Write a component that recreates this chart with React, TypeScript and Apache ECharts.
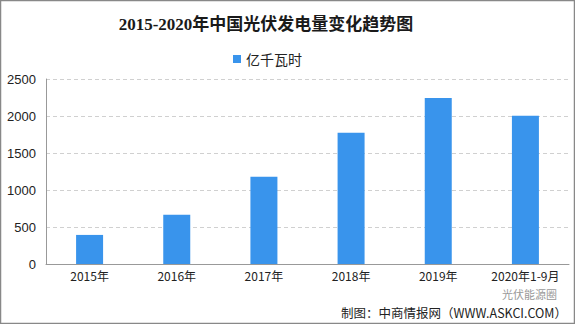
import React, { useEffect, useRef } from "react";
import * as echarts from "echarts";

const categories = ["2015年", "2016年", "2017年", "2018年", "2019年", "2020年1-9月"];
const values = [393, 665, 1178, 1775, 2243, 2005];
const seriesName = "亿千瓦时";
const titleText = "2015-2020年中国光伏发电量变化趋势图";
const footerText = "制图：中商情报网（WWW.ASKCI.COM）";
const watermarkText = "光伏能源圈";

export default function App() {
  const ref = useRef<HTMLDivElement>(null);
  useEffect(() => {
    const chart = echarts.init(ref.current!, null, { renderer: "svg" });
    chart.setOption({
      animation: false,
      backgroundColor: "#ffffff",
      title: {
        text: titleText,
        left: 261,
        textAlign: "center",
        top: 11,
        textStyle: {
          fontFamily: "'Liberation Serif', 'Noto Sans CJK SC', serif",
          fontWeight: "bold",
          fontSize: 17,
          color: "#1a1a1a",
        },
      },
      legend: {
        top: 47,
        left: 228,
        itemWidth: 8,
        itemHeight: 8,
        itemGap: 4,
        icon: "rect",
        textStyle: { fontSize: 14, color: "#222", fontFamily: "'Noto Sans CJK SC', sans-serif" },
        data: [seriesName],
      },
      grid: { left: 46, right: 6, top: 79, bottom: 60, containLabel: false },
      xAxis: {
        type: "category",
        data: categories,
        axisLine: { lineStyle: { color: "#999" } },
        axisTick: { show: false },
        axisLabel: {
          interval: 0,
          color: "#222",
          fontSize: 12,
          margin: 5,
          fontFamily: "'Noto Sans CJK SC', sans-serif",
        },
      },
      yAxis: {
        type: "value",
        min: 0,
        max: 2500,
        interval: 500,
        axisLine: { show: true, lineStyle: { color: "#999" } },
        axisTick: { show: false },
        axisLabel: {
          color: "#222",
          fontSize: 13,
          margin: 10,
          fontFamily: "'Liberation Sans', 'Noto Sans CJK SC', sans-serif",
          formatter: (v: number) => String(v),
        },
        splitLine: { lineStyle: { color: "#d0d0d0", type: [4, 3] } },
      },
      series: [
        {
          name: seriesName,
          type: "bar",
          data: values,
          barWidth: 27,
          itemStyle: { color: "#3994ec" },
        },
      ],
      graphic: [
        {
          type: "text",
          right: 8,
          top: 306,
          style: {
            text: footerText,
            fontSize: 12.5,
            fill: "#222",
            fontFamily: "'Noto Sans CJK SC', sans-serif",
          },
        },
        {
          type: "text",
          left: 502,
          top: 288,
          style: {
            text: watermarkText,
            fontSize: 11,
            fill: "#999",
            fontFamily: "'Noto Sans CJK SC', sans-serif",
          },
        },
        {
          type: "rect",
          shape: { x: 0.5, y: 0.5, width: 574, height: 323 },
          style: { fill: "none", stroke: "#888", lineWidth: 1.5 },
          silent: true,
        },
      ],
    });
    return () => chart.dispose();
  }, []);
  return <div ref={ref} style={{ width: 575, height: 324, position: "absolute", left: 0, top: 0 }} />;
}
